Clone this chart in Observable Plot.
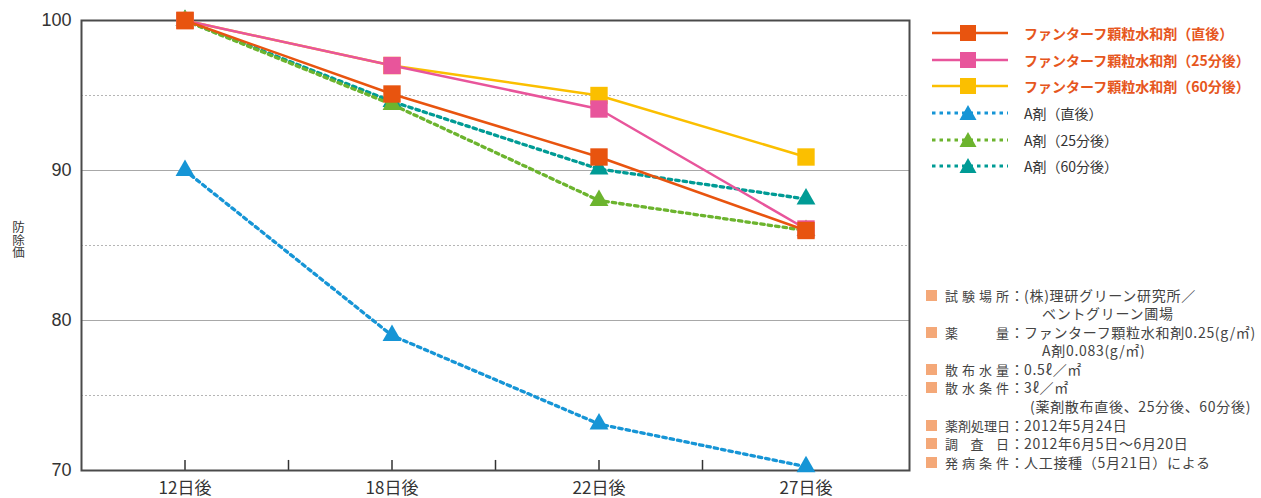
<!DOCTYPE html>
<html><head><meta charset="utf-8">
<script src="https://cdn.jsdelivr.net/npm/d3@7"></script>
<script src="https://cdn.jsdelivr.net/npm/@observablehq/plot@0.6"></script>
<style>
body{margin:0;background:#fff;font-family:"Noto Sans CJK JP","Noto Sans",sans-serif;}
#wrap{position:relative;width:1261px;height:498px;overflow:hidden;}
#wrap > svg{position:absolute;left:0;top:0;}
.leg{position:absolute;left:928px;height:20px;display:flex;align-items:center;font-size:14px;white-space:nowrap;}
.leg svg{margin-right:14px;flex:none;}
.note{position:absolute;font-size:14px;color:#444;white-space:nowrap;line-height:18px;letter-spacing:0.7px;}
.sq{position:absolute;width:11px;height:11px;background:#f4a878;}
.lab{display:inline-block;width:64px;font-size:13px;text-align:justify;text-align-last:justify;letter-spacing:0;}
#ylab{position:absolute;left:10px;top:221px;writing-mode:vertical-rl;font-size:12.5px;color:#333;line-height:16px;}
</style></head>
<body><div id="wrap"></div>
<script>
const days = ["12日後", "18日後", "22日後", "27日後"];
const fanChokugo = [100, 95.1, 90.9, 86.0];
const fan25 = [100, 97.0, 94.1, 86.1];
const fan60 = [100, 97.0, 95.0, 90.9];
const aChokugo = [90, 79.0, 73.1, 70.25];
const a25 = [100, 94.4, 88.0, 86.0];
const a60 = [100, 94.6, 90.1, 88.1];
const seriesNames = ["ファンターフ顆粒水和剤（直後）", "ファンターフ顆粒水和剤（25分後）", "ファンターフ顆粒水和剤（60分後）", "A剤（直後）", "A剤（25分後）", "A剤（60分後）"];
const yTitle = "防除価";
const yTicks = [70, 80, 90, 100];
const solidGrid = [80, 90];
const dashGrid = [75, 85, 95];
const halfTicks = [0, 0.5, 1, 1.5, 2, 2.5, 3];

const colors = ["#e8540f", "#e8559b", "#fbbf00", "#1695d6", "#6cb42e", "#009b95"];
const values = [fanChokugo, fan25, fan60, aChokugo, a25, a60];
const series = values.map((vals, k) => ({
  name: seriesNames[k], color: colors[k], dotted: k >= 3, symbol: k >= 3 ? "triangle" : "square",
  data: vals.map((v, i) => ({i, v}))
}));
const drawOrder = [5, 4, 3, 2, 1, 0];

const marks = [
  Plot.ruleY(dashGrid, {stroke: "#b5b5b5", strokeWidth: 1, strokeDasharray: "2,2"}),
  Plot.ruleY(solidGrid, {stroke: "#a8a8a8", strokeWidth: 1}),
  Plot.ruleX(halfTicks, {y1: 70, y2: 70.67, stroke: "#333", strokeWidth: 1.5}),
  Plot.frame({stroke: "#4a4a4a", strokeWidth: 2}),
  Plot.axisY(yTicks, {tickSize: 0, tickPadding: 10, fontSize: 18, fontFamily: "Liberation Sans, Arial, sans-serif", fill: "#333", label: null}),
  Plot.axisX([0, 1, 2, 3], {tickSize: 0, tickPadding: 11, fontSize: 17, fill: "#333", label: null, tickFormat: i => days[i]})
];
for (const k of drawOrder) {
  const s = series[k];
  marks.push(Plot.line(s.data, {x: "i", y: "v", stroke: s.color, strokeWidth: s.dotted ? 3.3 : 2.5,
    strokeDasharray: s.dotted ? "3.5,4" : null}));
  marks.push(Plot.dot(s.data, {x: "i", y: "v", symbol: s.symbol, r: s.dotted ? 7 : 9.8, fill: s.color, stroke: "none"}));
}

const chart = Plot.plot({
  width: 1261, height: 498,
  marginLeft: 81, marginRight: 352, marginTop: 20, marginBottom: 28,
  x: {type: "linear", domain: [-0.5, 3.5], axis: null},
  y: {domain: [70, 100], axis: null},
  style: {fontFamily: "Noto Sans CJK JP, Noto Sans, sans-serif", background: "#fff", color: "#333", overflow: "visible"},
  marks
});
const wrap = document.getElementById("wrap");
wrap.appendChild(chart);

const yl = document.createElement("div");
yl.id = "ylab"; yl.textContent = yTitle;
wrap.appendChild(yl);

// legend
const legY = [33, 60, 86, 113, 140, 166];
series.forEach((s, k) => {
  const div = document.createElement("div");
  div.className = "leg";
  div.style.top = (legY[k] - 10) + "px";
  const dash = s.dotted ? 'stroke-dasharray="3.5,4" stroke-width="3.2"' : 'stroke-width="2.5"';
  const mk = s.dotted
    ? `<path d="M40,2 L48.5,17 L31.5,17 Z" fill="${s.color}"/>`
    : `<rect x="32" y="2" width="16" height="16" fill="${s.color}"/>`;
  div.innerHTML = `<svg width="82" height="20"><line x1="4" x2="80" y1="10" y2="10" stroke="${s.color}" ${dash}/>${mk}</svg>` +
    `<span style="color:${s.dotted ? '#333' : '#e6561d'};font-weight:${s.dotted ? 400 : 700}">${s.name}</span>`;
  wrap.appendChild(div);
});

// notes
const notes = [
  ["試験場所", "(株)理研グリーン研究所／", 295],
  [null, "ベントグリーン圃場", 313, 1042],
  ["薬量", "ファンターフ顆粒水和剤0.25(g/㎡)", 332],
  [null, "A剤0.083(g/㎡)", 350, 1042],
  ["散布水量", "0.5ℓ／㎡", 369],
  ["散水条件", "3ℓ／㎡", 387],
  [null, "(薬剤散布直後、25分後、60分後)", 406, 1030],
  ["薬剤処理日", "2012年5月24日", 425],
  ["調査日", "2012年6月5日～6月20日", 443],
  ["発病条件", "人工接種（5月21日）による", 462]
];
notes.forEach(([lab, val, y, x]) => {
  if (lab) {
    const sq = document.createElement("div");
    sq.className = "sq"; sq.style.left = "926px"; sq.style.top = (y - 5) + "px";
    wrap.appendChild(sq);
    const d = document.createElement("div");
    d.className = "note"; d.style.left = "945px"; d.style.top = (y - 9) + "px";
    d.innerHTML = `<span class="lab">${lab}</span><span style="margin-left:1px;letter-spacing:0">：</span><span>${val}</span>`;
    wrap.appendChild(d);
  } else {
    const d = document.createElement("div");
    d.className = "note"; d.style.left = x + "px"; d.style.top = (y - 9) + "px";
    d.textContent = val;
    wrap.appendChild(d);
  }
});
</script></body></html>
